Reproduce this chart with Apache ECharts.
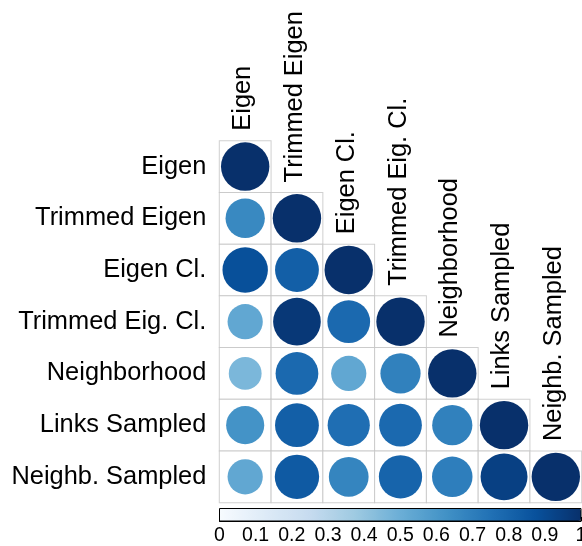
<!DOCTYPE html>
<html>
<head>
<meta charset="utf-8">
<script src="https://cdn.jsdelivr.net/npm/echarts@6/dist/echarts.min.js"></script>
<style>
  html, body { margin: 0; padding: 0; background: #fff; }
  #chart { width: 582px; height: 546px; }
</style>
</head>
<body>
<div id="chart"></div>
<script>
// Measures compared pairwise (lower triangle of a correlation matrix)
const measures = ['Eigen', 'Trimmed Eigen', 'Eigen Cl.', 'Trimmed Eig. Cl.', 'Neighborhood', 'Links Sampled', 'Neighb. Sampled'];

// One row per measure: correlations with the measures up to and including itself
const rowEigen        = [1];
const rowTrimmedEigen = [0.66, 1];
const rowEigenCl      = [0.88, 0.82, 1];
const rowTrimmedEigCl = [0.53, 0.97, 0.78, 1];
const rowNeighborhood = [0.46, 0.78, 0.53, 0.69, 1];
const rowLinksSampled = [0.62, 0.82, 0.76, 0.78, 0.69, 1];
const rowNeighbSampled = [0.53, 0.84, 0.675, 0.80, 0.70, 0.94, 1];

const rows = [rowEigen, rowTrimmedEigen, rowEigenCl, rowTrimmedEigCl, rowNeighborhood, rowLinksSampled, rowNeighbSampled];

// Colour bar tick labels (0 .. 1 by 0.1)
const barTicks = ['0', '0.1', '0.2', '0.3', '0.4', '0.5', '0.6', '0.7', '0.8', '0.9', '1'];

// Sequential blue palette
const blues = ['#F7FBFF', '#DEEBF7', '#C6DBEF', '#9ECAE1', '#6BAED6', '#4292C6', '#2171B5', '#08519C', '#08306B'];

const FONT = '"Liberation Sans", Arial, Helvetica, sans-serif';

// Matrix geometry
const G = { left: 219.3, top: 140.7, width: 362.4, height: 362 };
const n = measures.length;
const cellW = G.width / n;
const cellH = G.height / n;

const cells = [];
const circles = [];
const diag = [];
rows.forEach(function (vals, r) {
  vals.forEach(function (v, c) {
    cells.push([c, r]);
    circles.push([c, r, v]);
  });
  diag.push([r, r, measures[r]]);
});
const tickData = barTicks.map(function (t) { return [Number(t), 0, t]; });

const chart = echarts.init(document.getElementById('chart'), null, { renderer: 'canvas' });

chart.setOption({
  animation: false,
  backgroundColor: '#ffffff',
  grid: [
    { left: G.left, top: G.top, width: G.width, height: G.height, containLabel: false },
    { left: 219.5, top: 508.5, width: 361.5, height: 12.5, containLabel: false }
  ],
  xAxis: [
    {
      gridIndex: 0, type: 'category', data: measures, boundaryGap: true,
      axisLine: { show: false }, axisTick: { show: false }, axisLabel: { show: false }, splitLine: { show: false }
    },
    {
      gridIndex: 1, type: 'value', min: 0, max: 1, interval: 0.1,
      axisLine: { show: true, lineStyle: { color: '#000', width: 1 } },
      axisTick: { show: true, inside: true, length: 4, lineStyle: { color: '#000', width: 1 } },
      axisLabel: { show: false },
      splitLine: { show: false }
    }
  ],
  yAxis: [
    {
      gridIndex: 0, type: 'category', data: measures, inverse: true, boundaryGap: true,
      axisLine: { show: false }, axisTick: { show: false }, splitLine: { show: false },
      axisLabel: { show: true, margin: 13, fontSize: 25.4, color: '#000', fontFamily: FONT }
    },
    {
      gridIndex: 1, type: 'value', min: 0, max: 1, show: false
    }
  ],
  visualMap: {
    type: 'continuous',
    seriesIndex: 1,
    dimension: 2,
    min: 0, max: 1,
    orient: 'horizontal',
    calculable: false,
    hoverLink: false,
    left: 219.5, top: 508.5,
    itemWidth: 12.5, itemHeight: 361.5,
    padding: 0,
    text: null,
    showLabel: false,
    inRange: { color: blues }
  },
  graphic: [
    {
      type: 'rect', z: 100, silent: true,
      shape: { x: 219.5, y: 508.5, width: 361.5, height: 12.5 },
      style: { fill: 'none', stroke: '#000', lineWidth: 1 }
    }
  ],
  series: [
    {
      // cell outlines of the lower triangle
      type: 'scatter', xAxisIndex: 0, yAxisIndex: 0, z: 1, silent: true,
      symbol: 'rect', symbolSize: [cellW, cellH],
      itemStyle: { color: '#ffffff', borderColor: '#c4c4c4', borderWidth: 1 },
      data: cells
    },
    {
      // circles: area proportional to the correlation, colour from the palette
      type: 'scatter', xAxisIndex: 0, yAxisIndex: 0, z: 2, silent: true,
      symbol: 'circle',
      symbolSize: function (val) { return 0.935 * cellW * Math.sqrt(Math.abs(val[2])); },
      itemStyle: { opacity: 1 },
      data: circles
    },
    {
      // column names stacked above the diagonal
      type: 'custom', xAxisIndex: 0, yAxisIndex: 0, z: 3, silent: true,
      renderItem: function (params, api) {
        const p = api.coord([api.value(0), api.value(1)]);
        const s = api.size([1, 1]);
        return {
          type: 'text',
          x: p[0] - 2,
          y: p[1] - s[1] / 2 - 10,
          rotation: Math.PI / 2,
          style: {
            text: measures[api.value(0)],
            fontSize: 25.4, fontFamily: FONT, fill: '#000',
            align: 'left', verticalAlign: 'middle'
          }
        };
      },
      data: diag
    },
    {
      // colour bar tick labels
      type: 'custom', xAxisIndex: 1, yAxisIndex: 1, z: 3, silent: true, clip: false,
      renderItem: function (params, api) {
        const p = api.coord([api.value(0), 0]);
        return {
          type: 'text',
          x: p[0],
          y: p[1] + 5,
          style: {
            text: barTicks[params.dataIndex],
            fontSize: 19.5, fontFamily: FONT, fill: '#000',
            align: 'center', verticalAlign: 'top'
          }
        };
      },
      data: tickData
    }
  ]
});
</script>
</body>
</html>
